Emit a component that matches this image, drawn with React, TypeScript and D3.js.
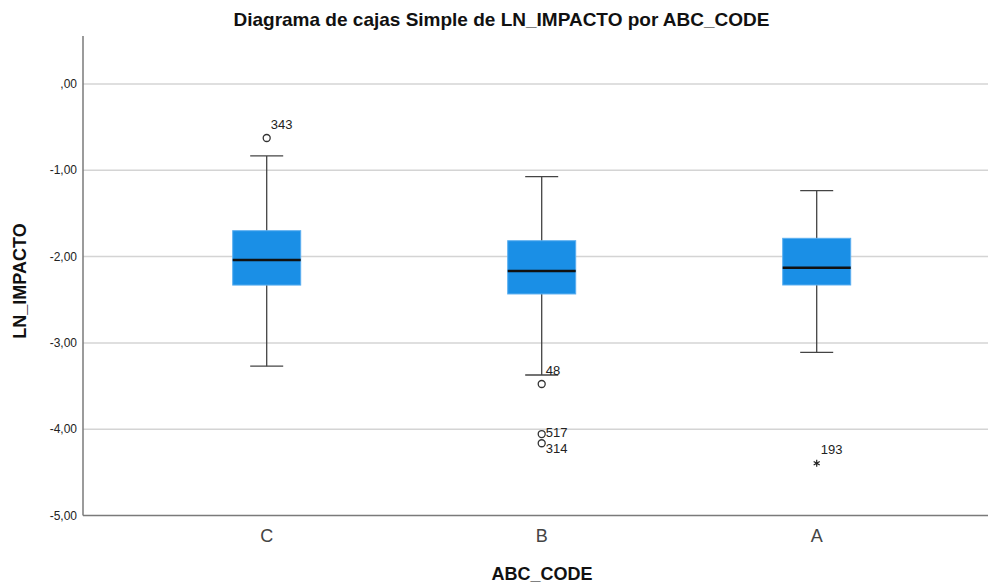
import React, { useEffect, useRef } from 'react';
import * as d3 from 'd3';

// categorias y estadisticos
const categorias = ['C', 'B', 'A'];
const bigoteSup = [-0.834, -1.074, -1.236];
const q3 = [-1.70, -1.816, -1.788];
const mediana = [-2.04, -2.167, -2.128];
const q1 = [-2.33, -2.433, -2.329];
const bigoteInf = [-3.27, -3.372, -3.109];

// atipicos: categoria, valor, etiqueta, tipo
const atipicosCat = ['C', 'B', 'B', 'B', 'A'];
const atipicosValor = [-0.626, -3.476, -4.056, -4.163, -4.395];
const atipicosId = ['343', '48', '517', '314', '193'];
const atipicosExtremo = [false, false, false, false, true];
const atipicosLado = ['arriba', 'arriba', 'lado', 'abajo', 'arriba'];

const ticksY = [0, -1, -2, -3, -4, -5];

export default function App() {
  const ref = useRef<SVGSVGElement>(null);

  useEffect(() => {
    const svg = d3.select(ref.current);
    svg.selectAll('*').remove();

    const width = 988;
    const height = 583;
    const left = 83;
    const top = 36;
    const bottom = 515.5;
    const right = 988;

    const y = d3.scaleLinear().domain([-5, 0]).range([bottom, 84]);
    const x = d3.scaleBand().domain(categorias).range([129.2, 954.2]);
    const cx = (c: string) => (x(c) as number) + x.bandwidth() / 2;

    const font = '"Liberation Sans", Arial, sans-serif';

    svg.attr('width', width).attr('height', height).style('font-family', font);

    // lineas de cuadricula
    svg.append('g')
      .selectAll('line')
      .data(ticksY.filter(d => d !== -5))
      .enter().append('line')
      .attr('x1', left).attr('x2', right)
      .attr('y1', d => y(d)).attr('y2', d => y(d))
      .attr('stroke', '#d4d4d4').attr('stroke-width', 1.5);

    // ejes
    svg.append('line')
      .attr('x1', left).attr('x2', left).attr('y1', top).attr('y2', bottom)
      .attr('stroke', '#7a7a7a').attr('stroke-width', 1.5);
    svg.append('line')
      .attr('x1', left).attr('x2', right).attr('y1', bottom).attr('y2', bottom)
      .attr('stroke', '#7a7a7a').attr('stroke-width', 1.5);

    const fmt = (d: number) => {
      const s = d3.format('.2f')(d).replace('.', ',').replace('−', '-');
      return s.replace(/^0,/, ',').replace(/^-0,/, ',');
    };

    svg.append('g')
      .selectAll('text')
      .data(ticksY)
      .enter().append('text')
      .attr('x', 77).attr('y', d => y(d) + 4)
      .attr('text-anchor', 'end')
      .attr('font-size', 12).attr('fill', '#222')
      .text(d => fmt(d));

    // etiquetas categorias
    svg.append('g')
      .selectAll('text')
      .data(categorias)
      .enter().append('text')
      .attr('x', d => cx(d)).attr('y', 542)
      .attr('text-anchor', 'middle')
      .attr('font-size', 18).attr('fill', '#444')
      .text(d => d);

    const cajaAncho = 68;
    const capAncho = 33;

    const g = svg.append('g');
    categorias.forEach((c, i) => {
      const xc = cx(c);
      // bigotes
      g.append('line')
        .attr('x1', xc).attr('x2', xc)
        .attr('y1', y(bigoteSup[i])).attr('y2', y(bigoteInf[i]))
        .attr('stroke', '#444').attr('stroke-width', 1.3);
      [bigoteSup[i], bigoteInf[i]].forEach(v => {
        g.append('line')
          .attr('x1', xc - capAncho / 2).attr('x2', xc + capAncho / 2)
          .attr('y1', y(v)).attr('y2', y(v))
          .attr('stroke', '#444').attr('stroke-width', 1.3);
      });
      // caja
      g.append('rect')
        .attr('x', xc - cajaAncho / 2)
        .attr('y', y(q3[i]))
        .attr('width', cajaAncho)
        .attr('height', y(q1[i]) - y(q3[i]))
        .attr('fill', '#1a8fe6')
        .attr('stroke', '#5aaef0').attr('stroke-width', 1);
      // mediana
      g.append('line')
        .attr('x1', xc - cajaAncho / 2).attr('x2', xc + cajaAncho / 2)
        .attr('y1', y(mediana[i])).attr('y2', y(mediana[i]))
        .attr('stroke', '#111').attr('stroke-width', 2.5);
    });

    // atipicos
    atipicosCat.forEach((c, i) => {
      const xc = cx(c);
      const yy = y(atipicosValor[i]);
      if (atipicosExtremo[i]) {
        g.append('path')
          .attr('d', d3.symbol().type(d3.symbolAsterisk).size(34)())
          .attr('transform', `translate(${xc},${yy})`)
          .attr('stroke', '#222').attr('stroke-width', 1.2);
      } else {
        g.append('circle')
          .attr('cx', xc).attr('cy', yy).attr('r', 3.5)
          .attr('fill', 'none').attr('stroke', '#333').attr('stroke-width', 1.3);
      }
      const lado = atipicosLado[i];
      g.append('text')
        .attr('x', xc + 4)
        .attr('y', lado === 'abajo' ? yy + 10 : lado === 'lado' ? yy + 3 : yy - 9)
        .attr('font-size', 13).attr('fill', '#222')
        .text(atipicosId[i]);
    });

    // titulos
    svg.append('text')
      .attr('x', 501.5).attr('y', 26)
      .attr('text-anchor', 'middle')
      .attr('font-size', 19).attr('font-weight', 'bold').attr('fill', '#111')
      .text('Diagrama de cajas Simple de LN_IMPACTO por ABC_CODE');

    svg.append('text')
      .attr('transform', 'translate(26,281) rotate(-90)')
      .attr('text-anchor', 'middle')
      .attr('font-size', 18).attr('font-weight', 'bold').attr('fill', '#111')
      .text('LN_IMPACTO');

    svg.append('text')
      .attr('x', 542).attr('y', 580)
      .attr('text-anchor', 'middle')
      .attr('font-size', 18).attr('font-weight', 'bold').attr('fill', '#111')
      .text('ABC_CODE');
  }, []);

  return (
    <svg ref={ref} style={{ position: 'absolute', left: 0, top: 0, display: 'block' }}></svg>
  );
}
